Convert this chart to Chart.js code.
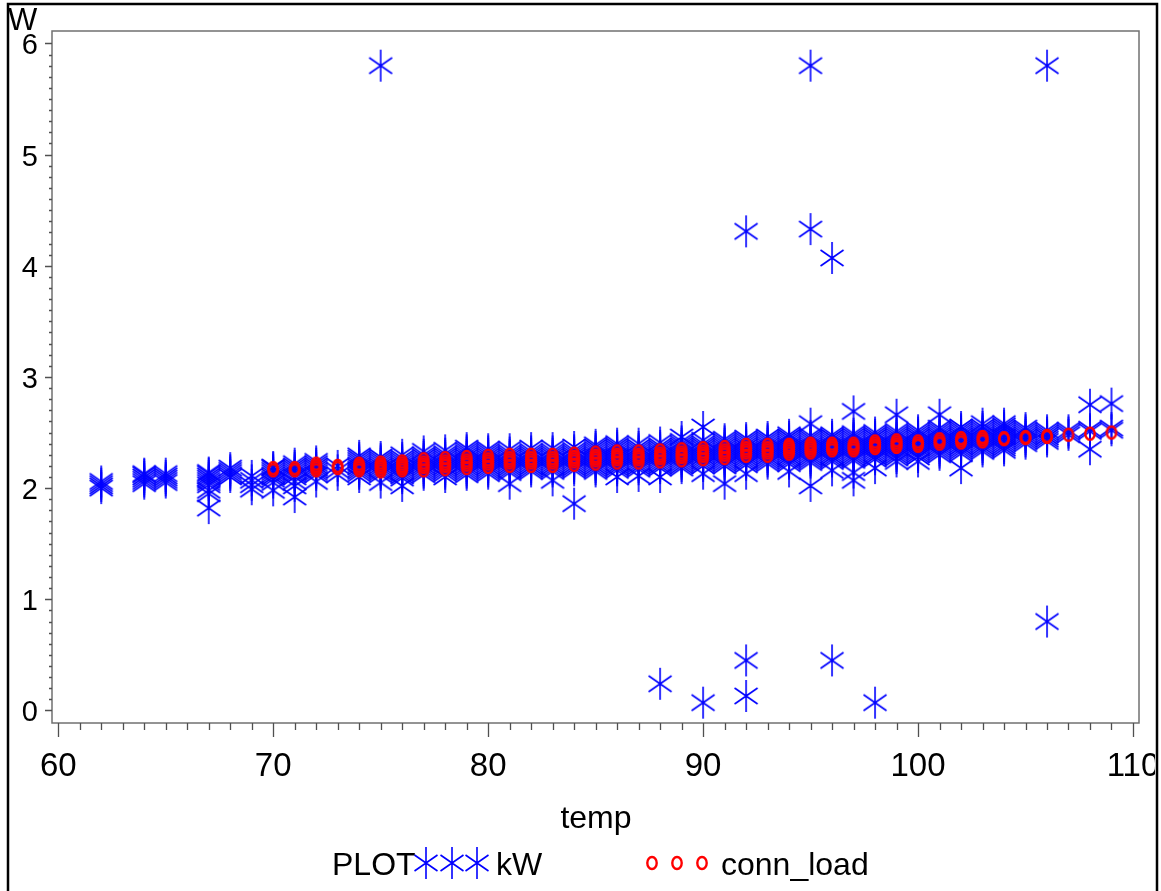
<!DOCTYPE html>
<html>
<head>
<meta charset="utf-8">
<script src="https://cdn.jsdelivr.net/npm/chart.js@4"></script>
<style>
  body { margin: 0; background: #fff; }
  canvas { display: block; }
</style>
</head>
<body>
<canvas id="grafico" width="1161" height="891"></canvas>
<script>
// leituras de kW por temperatura
const kwTemps = [62, 64, 65, 67, 68, 69, 70, 71, 72, 73, 74, 75, 76, 77, 78, 79, 80, 81, 82, 83, 84, 85,
  86, 87, 88, 89, 90, 91, 92, 93, 94, 95, 96, 97, 98, 99, 100, 101, 102, 103, 104, 105, 106, 107, 108, 109];
const kwValues = [
  [2.00, 2.02, 2.04, 2.06],
  [2.04, 2.06, 2.08, 2.10, 2.12, 2.13],
  [2.05, 2.07, 2.09, 2.11, 2.13],
  [1.82, 1.95, 1.98, 2.03, 2.05, 2.07, 2.09, 2.11, 2.13, 2.14],
  [2.10, 2.12, 2.14, 2.16, 2.18],
  [1.99, 2.03, 2.07, 2.11],
  [1.98, 2.05, 2.08, 2.10, 2.12, 2.14, 2.16, 2.18, 2.19],
  [1.92, 2.02, 2.06, 2.10, 2.12, 2.14, 2.16, 2.18, 2.20, 2.22],
  [2.06, 2.12, 2.14, 2.16, 2.18, 2.20, 2.22, 2.24],
  [2.12, 2.16, 2.20],
  [2.10, 2.13, 2.15, 2.17, 2.19, 2.21, 2.23, 2.25, 2.27, 2.29],
  [2.05, 2.12, 2.14, 2.16, 2.18, 2.20, 2.22, 2.24, 2.26, 2.28, 5.80],
  [2.02, 2.09, 2.11, 2.13, 2.15, 2.17, 2.19, 2.21, 2.23, 2.25, 2.27, 2.30],
  [2.12, 2.14, 2.16, 2.18, 2.20, 2.22, 2.24, 2.26, 2.28, 2.30, 2.33],
  [2.10, 2.13, 2.15, 2.17, 2.19, 2.21, 2.23, 2.25, 2.27, 2.29, 2.31, 2.34],
  [2.12, 2.14, 2.16, 2.18, 2.20, 2.22, 2.24, 2.26, 2.28, 2.30, 2.32, 2.34, 2.36],
  [2.13, 2.15, 2.17, 2.19, 2.21, 2.23, 2.25, 2.27, 2.29, 2.31, 2.33, 2.35],
  [2.04, 2.14, 2.16, 2.18, 2.20, 2.22, 2.24, 2.26, 2.28, 2.30, 2.32, 2.35],
  [2.15, 2.17, 2.19, 2.21, 2.23, 2.25, 2.27, 2.29, 2.31, 2.33, 2.36],
  [2.07, 2.15, 2.17, 2.19, 2.21, 2.23, 2.25, 2.27, 2.29, 2.31, 2.33, 2.36],
  [1.86, 2.16, 2.18, 2.20, 2.22, 2.24, 2.26, 2.28, 2.30, 2.32, 2.34, 2.37],
  [2.15, 2.17, 2.19, 2.21, 2.23, 2.25, 2.27, 2.29, 2.31, 2.33, 2.35, 2.37, 2.39],
  [2.10, 2.16, 2.18, 2.20, 2.22, 2.24, 2.26, 2.28, 2.30, 2.32, 2.34, 2.36, 2.38, 2.40],
  [2.11, 2.17, 2.19, 2.21, 2.23, 2.25, 2.27, 2.29, 2.31, 2.33, 2.35, 2.37, 2.40],
  [0.24, 2.10, 2.18, 2.20, 2.22, 2.24, 2.26, 2.28, 2.30, 2.32, 2.34, 2.36, 2.38, 2.41],
  [2.18, 2.20, 2.22, 2.24, 2.26, 2.28, 2.30, 2.32, 2.34, 2.36, 2.38, 2.40, 2.42, 2.46],
  [0.07, 2.13, 2.20, 2.22, 2.24, 2.26, 2.28, 2.30, 2.32, 2.34, 2.36, 2.38, 2.40, 2.43, 2.55],
  [2.04, 2.20, 2.22, 2.24, 2.26, 2.28, 2.30, 2.32, 2.34, 2.36, 2.38, 2.40, 2.42, 2.44],
  [0.13, 0.45, 2.13, 2.21, 2.23, 2.25, 2.27, 2.29, 2.31, 2.33, 2.35, 2.37, 2.39, 2.41, 2.43, 2.45, 4.31],
  [2.22, 2.24, 2.26, 2.28, 2.30, 2.32, 2.34, 2.36, 2.38, 2.40, 2.42, 2.44, 2.46],
  [2.15, 2.22, 2.24, 2.26, 2.28, 2.30, 2.32, 2.34, 2.36, 2.38, 2.40, 2.42, 2.44, 2.46, 2.48],
  [2.02, 2.23, 2.25, 2.27, 2.29, 2.31, 2.33, 2.35, 2.37, 2.39, 2.41, 2.43, 2.45, 2.47, 2.58, 4.33, 5.80],
  [0.45, 2.16, 2.24, 2.26, 2.28, 2.30, 2.32, 2.34, 2.36, 2.38, 2.40, 2.42, 2.44, 2.46, 2.48, 4.07],
  [2.07, 2.14, 2.25, 2.27, 2.29, 2.31, 2.33, 2.35, 2.37, 2.39, 2.41, 2.43, 2.45, 2.47, 2.49, 2.69],
  [0.07, 2.18, 2.26, 2.28, 2.30, 2.32, 2.34, 2.36, 2.38, 2.40, 2.42, 2.44, 2.46, 2.48, 2.50],
  [2.24, 2.27, 2.29, 2.31, 2.33, 2.35, 2.37, 2.39, 2.41, 2.43, 2.45, 2.47, 2.49, 2.51, 2.66],
  [2.24, 2.28, 2.30, 2.32, 2.34, 2.36, 2.38, 2.40, 2.42, 2.44, 2.46, 2.48, 2.50, 2.52],
  [2.30, 2.32, 2.34, 2.36, 2.38, 2.40, 2.42, 2.44, 2.46, 2.48, 2.50, 2.52, 2.54, 2.66],
  [2.18, 2.31, 2.33, 2.35, 2.37, 2.39, 2.41, 2.43, 2.45, 2.47, 2.49, 2.51, 2.53, 2.55],
  [2.33, 2.35, 2.37, 2.39, 2.41, 2.43, 2.45, 2.47, 2.49, 2.51, 2.53, 2.55, 2.58],
  [2.34, 2.36, 2.38, 2.40, 2.42, 2.44, 2.46, 2.48, 2.50, 2.52, 2.54, 2.56, 2.58],
  [2.40, 2.42, 2.44, 2.46, 2.48, 2.50, 2.52, 2.54],
  [0.80, 2.42, 2.44, 2.46, 2.48, 2.50, 2.52, 5.80],
  [2.48, 2.50, 2.52],
  [2.35, 2.51, 2.53, 2.75],
  [2.52, 2.54, 2.76]
];

// conn_load (circulos vermelhos)
const connTemps = [70, 71, 72, 73, 74, 75, 76, 77, 78, 79, 80, 81, 82, 83, 84, 85, 86, 87, 88, 89,
  90, 91, 92, 93, 94, 95, 96, 97, 98, 99, 100, 101, 102, 103, 104, 105, 106, 107, 108, 109];
const connValues = [
  [2.16, 2.18], [2.16, 2.18], [2.16, 2.18, 2.20, 2.22], [2.18, 2.20], [2.16, 2.18, 2.20, 2.22],
  [2.15, 2.17, 2.19, 2.21, 2.23], [2.16, 2.18, 2.20, 2.22, 2.24], [2.16, 2.19, 2.21, 2.23, 2.26],
  [2.17, 2.20, 2.22, 2.24, 2.27], [2.18, 2.21, 2.23, 2.25, 2.28], [2.19, 2.22, 2.24, 2.26, 2.29],
  [2.20, 2.23, 2.25, 2.27, 2.30], [2.20, 2.23, 2.25, 2.27, 2.30], [2.20, 2.23, 2.25, 2.27, 2.30],
  [2.21, 2.24, 2.26, 2.28, 2.31], [2.22, 2.25, 2.27, 2.29, 2.32], [2.23, 2.26, 2.28, 2.30, 2.33],
  [2.23, 2.26, 2.28, 2.30, 2.33], [2.24, 2.27, 2.29, 2.31, 2.34], [2.25, 2.28, 2.30, 2.32, 2.35],
  [2.26, 2.29, 2.31, 2.33, 2.36], [2.27, 2.30, 2.32, 2.34, 2.37], [2.29, 2.32, 2.34, 2.36, 2.39],
  [2.29, 2.32, 2.34, 2.36, 2.39], [2.31, 2.33, 2.35, 2.37, 2.39], [2.32, 2.34, 2.36, 2.38, 2.40],
  [2.34, 2.36, 2.38, 2.40], [2.34, 2.36, 2.38, 2.40], [2.36, 2.38, 2.40, 2.42], [2.37, 2.39, 2.41, 2.43],
  [2.38, 2.40, 2.42], [2.40, 2.42, 2.44], [2.41, 2.43, 2.45], [2.42, 2.44, 2.46], [2.44, 2.45],
  [2.45, 2.46], [2.46, 2.47], [2.48], [2.49], [2.50]
];

const xTicks = [60, 70, 80, 90, 100, 110];
const yTicks = [0, 1, 2, 3, 4, 5, 6];
const seriesNames = ["kW", "conn_load"];

const FONT = "'Liberation Sans', Arial, sans-serif";

// marcador asterisco estilo SAS (6 bracos)
function makeStar() {
  const c = document.createElement("canvas");
  c.width = 26; c.height = 36;
  const g = c.getContext("2d");
  g.strokeStyle = "#0000ff";
  g.lineWidth = 1.6;
  g.beginPath();
  g.moveTo(13, 2); g.lineTo(13, 34);
  g.moveTo(1.5, 10); g.lineTo(24.5, 26);
  g.moveTo(1.5, 26); g.lineTo(24.5, 10);
  g.stroke();
  return c;
}

function makeRing() {
  const c = document.createElement("canvas");
  c.width = 16; c.height = 18;
  const g = c.getContext("2d");
  g.strokeStyle = "#ff0000";
  g.lineWidth = 2.4;
  g.beginPath();
  g.ellipse(8, 9, 4.7, 6, 0, 0, Math.PI * 2);
  g.stroke();
  return c;
}

const star = makeStar();
const ring = makeRing();

const kwPoints = kwTemps.flatMap((t, i) => kwValues[i].map(v => ({ x: t, y: v })));
const connPoints = connTemps.flatMap((t, i) => connValues[i].map(v => ({ x: t, y: v })));

const moldura = {
  id: "moldura",
  beforeDatasetsDraw(chart) {
    const { ctx, chartArea: a } = chart;
    ctx.save();
    ctx.strokeStyle = "#707070";
    ctx.lineWidth = 1.5;
    ctx.strokeRect(a.left, a.top, a.right - a.left, a.bottom - a.top);
    ctx.restore();
  },
  afterDraw(chart) {
    const { ctx, chartArea: a, scales } = chart;
    const xs = scales.x, ys = scales.y;
    ctx.save();
    ctx.strokeStyle = "#505050";
    ctx.lineWidth = 1.3;
    ctx.beginPath();
    for (let k = 0; k <= 60; k++) {
      const py = Math.round(ys.getPixelForValue(k / 10)) + 0.5;
      const len = k % 10 === 0 ? 7 : 3;
      ctx.moveTo(a.left - len, py); ctx.lineTo(a.left, py);
    }
    for (let k = 60; k <= 110; k++) {
      const px = Math.round(xs.getPixelForValue(k)) + 0.5;
      const len = k % 10 === 0 ? 14 : 7;
      ctx.moveTo(px, a.bottom); ctx.lineTo(px, a.bottom + len);
    }
    ctx.stroke();

    ctx.fillStyle = "#000";
    ctx.textBaseline = "alphabetic";
    ctx.font = "31px " + FONT;
    ctx.textAlign = "left";
    ctx.fillText("W", 8, 30);

    ctx.font = "32px " + FONT;
    ctx.textAlign = "center";
    ctx.fillText("temp", 596, 828);

    // legenda
    ctx.textAlign = "left";
    ctx.fillText("PLOT", 332, 875);
    [426, 452, 477].forEach(cx => ctx.drawImage(star, cx - 13, 863 - 18));
    ctx.fillText(seriesNames[0], 496, 875);
    [652, 677, 702].forEach(cx => ctx.drawImage(ring, cx - 8, 863 - 9));
    ctx.fillText(seriesNames[1], 721, 875);

    // borda externa
    ctx.fillStyle = "#fff";
    ctx.fillRect(1155, 0, 10, 891);
    ctx.strokeStyle = "#000";
    ctx.lineWidth = 2.5;
    ctx.beginPath();
    ctx.moveTo(8, 891); ctx.lineTo(8, 4); ctx.lineTo(1157, 4); ctx.lineTo(1157, 891);
    ctx.stroke();
    ctx.restore();
  }
};

new Chart(document.getElementById("grafico"), {
  type: "scatter",
  data: {
    datasets: [
      { label: seriesNames[1], data: connPoints, pointStyle: ring, order: 0 },
      { label: seriesNames[0], data: kwPoints, pointStyle: star, order: 1 }
    ]
  },
  options: {
    responsive: false,
    animation: false,
    events: [],
    layout: { padding: { top: 31, right: 22, left: 0, bottom: 0 } },
    plugins: { legend: { display: false }, tooltip: { enabled: false } },
    scales: {
      x: {
        type: "linear",
        min: 59.71,
        max: 110.28,
        grid: { display: false, drawTicks: false },
        border: { display: false },
        afterBuildTicks: s => { s.ticks = xTicks.map(v => ({ value: v })); },
        afterFit: s => { s.height = 168; s.paddingLeft = 0; s.paddingRight = 0; },
        ticks: { color: "#000", font: { family: FONT, size: 33 }, padding: 24, maxRotation: 0, autoSkip: false }
      },
      y: {
        min: -0.113,
        max: 6.112,
        grid: { display: false, drawTicks: false },
        border: { display: false },
        afterBuildTicks: s => { s.ticks = yTicks.map(v => ({ value: v })); },
        afterFit: s => { s.width = 52; s.paddingTop = 0; s.paddingBottom = 0; },
        ticks: { color: "#000", font: { family: FONT, size: 29 }, padding: 14, labelOffset: 3, autoSkip: false }
      }
    }
  },
  plugins: [moldura]
});
</script>
</body>
</html>
